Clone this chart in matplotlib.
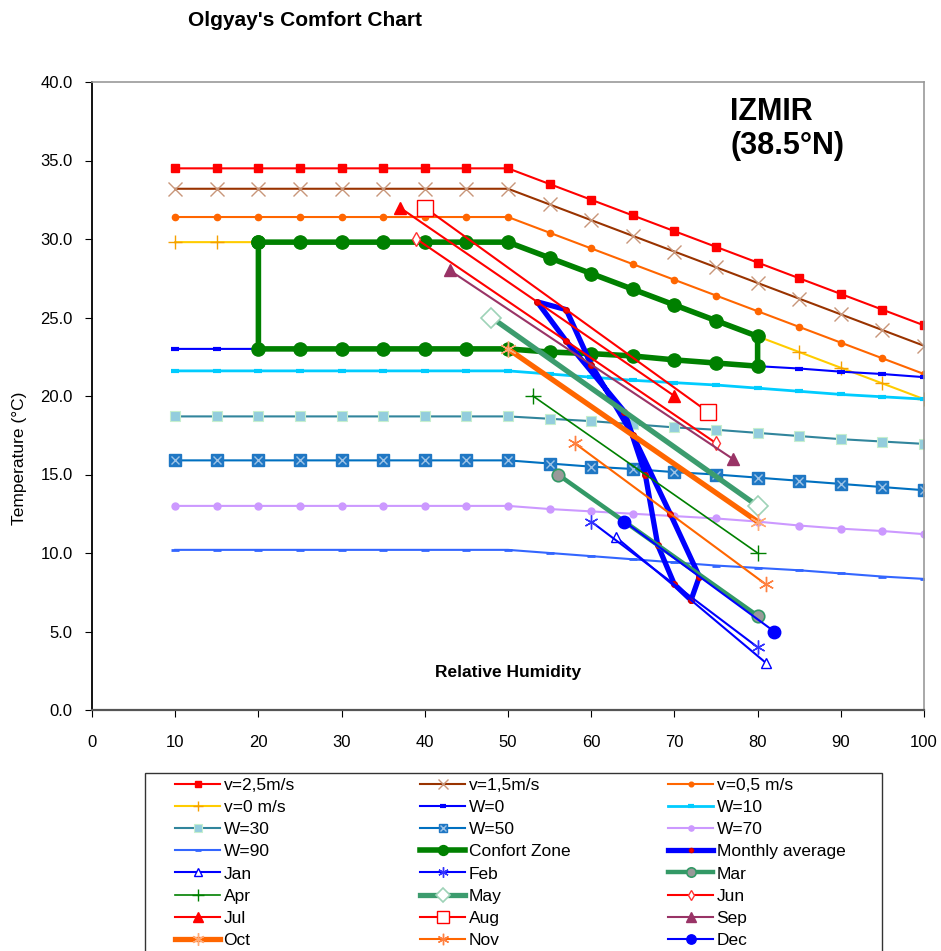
import numpy as np
import matplotlib
matplotlib.use("Agg")
import matplotlib.pyplot as plt
from matplotlib.patches import Rectangle

plt.rcParams['font.family'] = ['Liberation Sans', 'DejaVu Sans']

# relative humidity steps of the Olgyay lines
rh = [10, 15, 20, 25, 30, 35, 40, 45, 50, 55, 60, 65, 70, 75, 80, 85, 90, 95, 100]

v25 = [34.5, 34.5, 34.5, 34.5, 34.5, 34.5, 34.5, 34.5, 34.5, 33.5, 32.5, 31.5, 30.5, 29.5, 28.5, 27.5, 26.5, 25.5, 24.5]
v15 = [33.2, 33.2, 33.2, 33.2, 33.2, 33.2, 33.2, 33.2, 33.2, 32.2, 31.2, 30.2, 29.2, 28.2, 27.2, 26.2, 25.2, 24.2, 23.2]
v05 = [31.4, 31.4, 31.4, 31.4, 31.4, 31.4, 31.4, 31.4, 31.4, 30.4, 29.4, 28.4, 27.4, 26.4, 25.4, 24.4, 23.4, 22.4, 21.4]
v0 = [29.8, 29.8, 29.8, 29.8, 29.8, 29.8, 29.8, 29.8, 29.8, 28.8, 27.8, 26.8, 25.8, 24.8, 23.8, 22.8, 21.8, 20.8, 19.8]
w0 = [23.0, 23.0, 23.0, 23.0, 23.0, 23.0, 23.0, 23.0, 23.0, 22.8, 22.7, 22.55, 22.3, 22.1, 21.9, 21.75, 21.55, 21.4, 21.2]
w10 = [21.6, 21.6, 21.6, 21.6, 21.6, 21.6, 21.6, 21.6, 21.6, 21.4, 21.2, 21.0, 20.85, 20.7, 20.5, 20.3, 20.1, 19.95, 19.8]
w30 = [18.7, 18.7, 18.7, 18.7, 18.7, 18.7, 18.7, 18.7, 18.7, 18.55, 18.4, 18.2, 18.0, 17.85, 17.65, 17.45, 17.25, 17.1, 16.95]
w50 = [15.9, 15.9, 15.9, 15.9, 15.9, 15.9, 15.9, 15.9, 15.9, 15.7, 15.5, 15.35, 15.15, 15.0, 14.8, 14.6, 14.4, 14.2, 14.0]
w70 = [13.0, 13.0, 13.0, 13.0, 13.0, 13.0, 13.0, 13.0, 13.0, 12.8, 12.65, 12.5, 12.35, 12.2, 12.0, 11.75, 11.55, 11.4, 11.2]
w90 = [10.2, 10.2, 10.2, 10.2, 10.2, 10.2, 10.2, 10.2, 10.2, 10.0, 9.8, 9.6, 9.4, 9.2, 9.05, 8.9, 8.7, 8.5, 8.35]

# comfort zone outline
cz_rh = [20, 25, 30, 35, 40, 45, 50, 55, 60, 65, 70, 75, 80, 80, 75, 70, 65, 60, 55, 50, 45, 40, 35, 30, 25, 20, 20]
cz_t = [29.8, 29.8, 29.8, 29.8, 29.8, 29.8, 29.8, 28.8, 27.8, 26.8, 25.8, 24.8, 23.8,
        21.9, 22.1, 22.3, 22.55, 22.7, 22.8, 23.0, 23.0, 23.0, 23.0, 23.0, 23.0, 23.0, 29.8]

# monthly climate lines for Izmir
months = ['Jan', 'Feb', 'Mar', 'Apr', 'May', 'Jun', 'Jul', 'Aug', 'Sep', 'Oct', 'Nov', 'Dec']
rh_min = [63, 60, 56, 53, 48, 39, 37, 40, 43, 50, 58, 64]
t_max = [11, 12, 15, 20, 25, 30, 32, 32, 28, 23, 17, 12]
rh_max = [81, 80, 80, 80, 80, 75, 70, 74, 77, 80, 81, 82]
t_min = [3, 4, 6, 10, 13, 17, 20, 19, 16, 12, 8, 5]

month_style = {
    'Jan': dict(color='#0000FF', lw=1.5, marker='^', ms=7, mfc='white', mec='#0000FF'),
    'Feb': dict(color='#0000FF', lw=1.5, marker=(6, 2, 0), ms=10, mec='#3333FF', mew=1),
    'Mar': dict(color='#339966', lw=3.2, marker='o', ms=9, mfc='#999999', mec='#339966', mew=1.2),
    'Apr': dict(color='#008000', lw=1.2, marker='+', ms=11, mec='#008000', mew=1),
    'May': dict(color='#3C9C6E', lw=3.8, marker='D', ms=10, mfc='white', mec='#9ED3B8', mew=1.2),
    'Jun': dict(color='#FF0000', lw=1.5, marker='d', ms=7, mfc='white', mec='#FF3333', mew=1),
    'Jul': dict(color='#FF0000', lw=1.5, marker='^', ms=9, mfc='#FF0000', mec='#FF0000'),
    'Aug': dict(color='#FF0000', lw=1.5, marker='s', ms=11, mfc='white', mec='#FF0000', mew=1),
    'Sep': dict(color='#993366', lw=1.5, marker='^', ms=9, mfc='#993366', mec='#993366'),
    'Oct': dict(color='#FF6600', lw=3.8, marker=(6, 2, 0), ms=12, mec='#FFAA77', mew=1),
    'Nov': dict(color='#FF6600', lw=1.5, marker=(6, 2, 0), ms=11, mec='#FF8040', mew=1),
    'Dec': dict(color='#0000FF', lw=1.5, marker='o', ms=9, mfc='#0000FF', mec='#0000FF'),
}

fig = plt.figure(figsize=(9.41, 9.51), dpi=100)
ax = fig.add_axes([92 / 941, 1 - 710 / 951, (924 - 92) / 941, (710 - 82) / 951])

handles = []
labels = []

def add(h, lab):
    handles.append(h)
    labels.append(lab)

l, = ax.plot(rh, v25, color='#FF0000', lw=1.5, marker='s', ms=5.5)
add(l, 'v=2,5m/s')
l, = ax.plot(rh, v15, color='#993300', lw=1.5, marker='x', ms=10, mec='#C8967A', mew=1)
add(l, 'v=1,5m/s')
l, = ax.plot(rh, v05, color='#FF6600', lw=1.5, marker='o', ms=4.5)
add(l, 'v=0,5 m/s')
l, = ax.plot(rh, v0, color='#FFCC00', lw=1.5, marker='+', ms=10, mec='#F5A000', mew=1)
add(l, 'v=0 m/s')
l, = ax.plot(rh, w0, color='#0000FF', lw=1.5, marker='_', ms=6, mew=3)
add(l, 'W=0')
l, = ax.plot(rh, w10, color='#00CCFF', lw=2, marker='_', ms=6, mew=3)
add(l, 'W=10')
l, = ax.plot(rh, w30, color='#31859C', lw=1.5, marker='s', ms=7.5, mfc='#93CDDD', mec='#C6EFCE', mew=0.8)
add(l, 'W=30')
l1, = ax.plot(rh, w50, color='#0070C0', lw=1.5, marker='s', ms=8.5, mfc='#1F77C4', mec='#1F77C4')
l2, = ax.plot(rh, w50, ls='none', marker='x', ms=6, mec='#9DC3E6', mew=1)
add((l1, l2), 'W=50')
l, = ax.plot(rh, w70, color='#CC99FF', lw=1.5, marker='o', ms=5)
add(l, 'W=70')
l, = ax.plot(rh, w90, color='#3366FF', lw=1.5, marker='_', ms=6, mew=2)
add(l, 'W=90')
l, = ax.plot(cz_rh, cz_t, color='#008000', lw=4, marker='o', ms=9.5, solid_joinstyle='miter')
add(l, 'Confort Zone')

# monthly average = middle of each month's line, closed loop
avg_rh = [(a + b) / 2 for a, b in zip(rh_min, rh_max)]
avg_t = [(a + b) / 2 for a, b in zip(t_max, t_min)]
l, = ax.plot(avg_rh + avg_rh[:1], avg_t + avg_t[:1], color='#0000FF', lw=3.8,
             marker='o', ms=4, mfc='#FF0000', mec='#CC0000')
add(l, 'Monthly average')

for i, m in enumerate(months):
    l, = ax.plot([rh_min[i], rh_max[i]], [t_max[i], t_min[i]], **month_style[m])
    add(l, m)

ax.set_xlim(0, 100)
ax.set_ylim(0, 40)
ax.set_xticks(range(0, 101, 10))
ax.set_yticks(np.arange(0, 40.1, 5))
ax.set_yticklabels([f'{t:.1f}' for t in np.arange(0, 40.1, 5)])
ax.tick_params(axis='y', direction='out', length=5, pad=9, labelsize=12)
ax.tick_params(axis='x', direction='out', length=5, pad=13, labelsize=12)

ax.spines['left'].set_color('black')
ax.spines['left'].set_linewidth(1.3)
ax.spines['bottom'].set_color('#555555')
ax.spines['bottom'].set_linewidth(1.6)
for s in ['top', 'right']:
    ax.spines[s].set_color('#999999')
    ax.spines[s].set_linewidth(1.2)

ax.set_ylabel('Temperature (°C)', fontsize=12.5)
ax.yaxis.set_label_coords(-0.078, 0.40)
ax.text(50, 2.4, 'Relative Humidity', ha='center', va='center', fontsize=12.5, fontweight='bold')
ax.text(76.7, 37.0, 'IZMIR\n(38.5°N)', ha='left', va='center', fontsize=22,
        fontweight='bold', linespacing=1.2)

fig.text(305 / 941, 1 - 20 / 951, "Olgyay's Comfort Chart", ha='center', va='center',
         fontsize=15, fontweight='bold')

# legend: three columns inside one box, cut off by the figure edge
col_x = [175 / 941, 420 / 941, 668 / 941]
for c in range(3):
    fig.legend(handles[c::3], labels[c::3], loc='upper left',
               bbox_to_anchor=(col_x[c], 1 - 778 / 951), frameon=False,
               fontsize=12.5, handlelength=2.6, handletextpad=0.2,
               labelspacing=0.40, borderpad=0, borderaxespad=0, markerscale=0.75)

fig.add_artist(Rectangle((145 / 941, -0.05), (882 - 145) / 941, 0.05 + 1 - 773 / 951,
                         transform=fig.transFigure, fill=False, edgecolor='#333333', lw=1))

fig.savefig('out.png', dpi=100)
